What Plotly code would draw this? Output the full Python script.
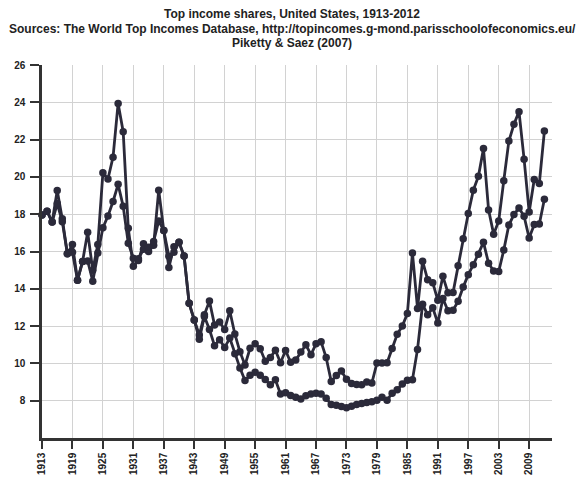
import plotly.graph_objects as go

years = list(range(1913, 2013))

top1_incl_kg = [
    17.96, 18.16, 17.58, 19.27, 17.75, 15.88, 16.37, 14.46, 15.47, 17.03,
    15.00, 16.38, 20.22, 19.89, 21.06, 23.94, 22.42, 17.24, 15.21, 15.52,
    16.42, 16.00, 16.34, 19.29, 17.12, 15.14, 16.26, 16.49, 15.76, 13.22,
    12.33, 11.52, 12.61, 13.34, 12.06, 12.22, 11.82, 12.82, 11.58, 10.63,
    9.91, 10.81, 11.06, 10.79, 10.12, 10.32, 10.70, 10.03, 10.69, 10.06,
    10.18, 10.61, 11.00, 10.47, 11.05, 11.16, 10.31, 9.03, 9.35, 9.59,
    9.15, 8.92, 8.87, 8.86, 9.00, 8.95, 10.02, 10.02, 10.03, 10.80,
    11.56, 12.00, 12.67, 15.92, 12.95, 15.48, 14.48, 14.33, 13.38, 14.67,
    13.79, 13.80, 15.23, 16.69, 18.04, 19.29, 20.03, 21.52, 18.23, 16.93,
    17.64, 19.80, 21.92, 22.82, 23.50, 20.95, 18.12, 19.86, 19.64, 22.46,
]

top1_excl_kg = [
    17.96, 18.16, 17.58, 18.57, 17.60, 15.88, 15.96, 14.46, 15.47, 15.49,
    14.41, 15.92, 17.27, 17.91, 18.68, 19.60, 18.42, 16.44, 15.64, 15.61,
    16.12, 16.23, 16.54, 17.64, 17.12, 15.75, 15.96, 16.49, 15.76, 13.22,
    12.33, 11.30, 12.52, 11.82, 10.95, 11.27, 10.85, 11.36, 10.52, 9.76,
    9.08, 9.36, 9.53, 9.36, 9.14, 8.85, 9.12, 8.36, 8.43, 8.28,
    8.18, 8.09, 8.26, 8.36, 8.40, 8.36, 8.13, 7.80, 7.75, 7.69,
    7.62, 7.70, 7.80, 7.85, 7.90, 7.95, 8.03, 8.18, 8.03, 8.40,
    8.59, 8.89, 9.09, 9.13, 10.75, 13.17, 12.61, 12.98, 12.17, 13.48,
    12.82, 12.85, 13.33, 14.09, 14.76, 15.29, 15.85, 16.49, 15.37, 14.96,
    14.93, 16.08, 17.42, 17.98, 18.33, 17.89, 16.72, 17.45, 17.47, 18.80,
]

x_tick_years = list(range(1913, 2013, 6))
x_tick_labels = [str(y) for y in x_tick_years]
y_tick_vals = list(range(8, 27, 2))
y_tick_labels = [str(v) for v in y_tick_vals]

title_lines = [
    "Top income shares, United States, 1913-2012",
    "Sources: The World Top Incomes Database, http://topincomes.g-mond.parisschoolofeconomics.eu/",
    "Piketty & Saez (2007)",
]

ink = "#2b2a3a"
# the page body has an 8px default margin, so the figure is drawn 8px in from the window corner
OFF = 8
W, H = 584 - OFF, 480 - OFF
L, R, T, B = 42 - OFF, 32, 65 - OFF, 42
plot_w = W - L - R
plot_h = H - T - B

fig = go.Figure()
for name, vals in [("Top 1% incl. capital gains", top1_incl_kg),
                   ("Top 1% excl. capital gains", top1_excl_kg)]:
    fig.add_trace(go.Scatter(
        x=years, y=vals, name=name, mode="lines+markers",
        line=dict(color=ink, width=2.8),
        marker=dict(color=ink, size=7.5, symbol="circle"),
        cliponaxis=False, showlegend=False,
    ))

# title lines as annotations, centred on the page
for line, py in zip(title_lines, [14, 28.5, 43]):
    fig.add_annotation(
        text="<b>%s</b>" % line,
        xref="paper", x=(292 - OFF - L) / plot_w, xanchor="center",
        yref="paper", y=(H - B - (py - OFF)) / plot_h, yanchor="middle",
        showarrow=False, font=dict(size=12, color="#222222"),
    )

fig.update_layout(
    width=W, height=H,
    margin=dict(l=L, r=R, t=T, b=B, autoexpand=False),
    paper_bgcolor="white", plot_bgcolor="white",
    font=dict(family="Liberation Sans, Arial, sans-serif", color="#222222"),
)

fig.update_xaxes(
    range=[1913, 2013.5], automargin=False,
    tickmode="array", tickvals=x_tick_years, ticktext=["<b>%s</b>" % t for t in x_tick_labels],
    tickangle=-90, tickfont=dict(size=10, color="#222222"),
    ticks="outside", ticklen=8, tickwidth=1.5, tickcolor="#333333",
    showline=True, linecolor="#333333", linewidth=2.5,
    showgrid=True, gridcolor="#d2d2d2", gridwidth=1,
    zeroline=False,
)
fig.update_yaxes(
    range=[6, 26], automargin=False,
    tickmode="array", tickvals=y_tick_vals, ticktext=["<b>%s</b>" % t for t in y_tick_labels],
    tickfont=dict(size=10, color="#222222"),
    ticks="outside", ticklen=9, tickwidth=1.5, tickcolor="#333333",
    ticklabelstandoff=3,
    showline=True, linecolor="#333333", linewidth=2.5,
    showgrid=True, gridcolor="#d2d2d2", gridwidth=1,
    zeroline=False,
)

fig.write_html("out.html")
